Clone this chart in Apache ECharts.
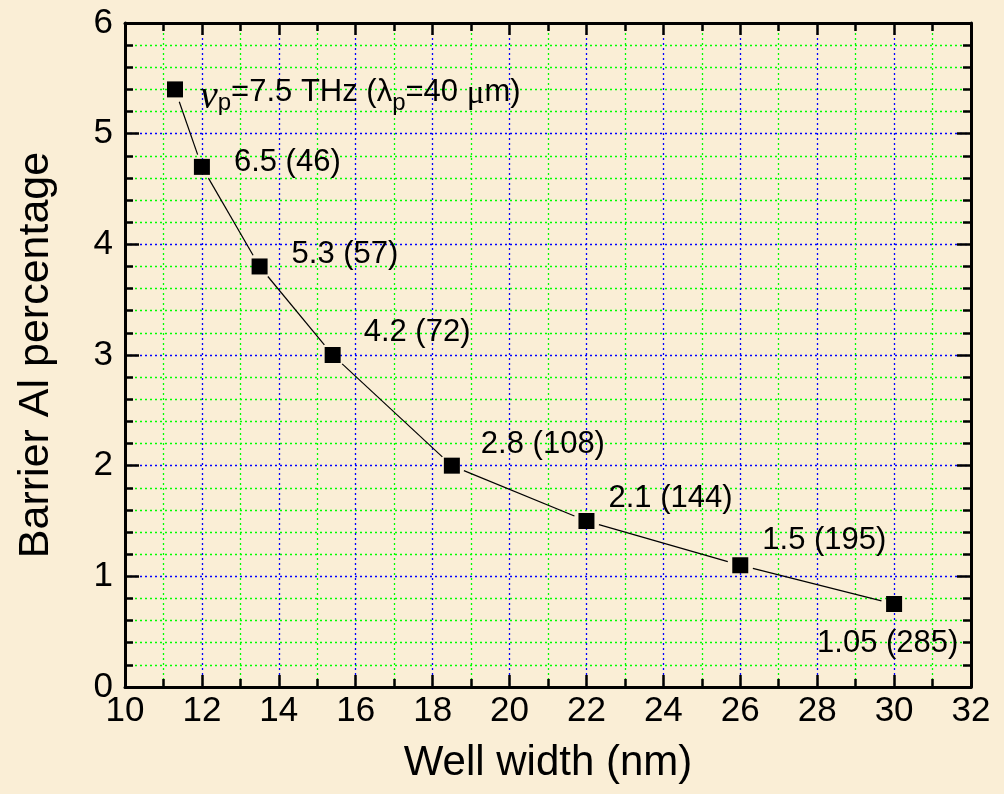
<!DOCTYPE html>
<html>
<head>
<meta charset="utf-8">
<script src="https://cdn.jsdelivr.net/npm/echarts@6/dist/echarts.min.js"></script>
<style>
html,body{margin:0;padding:0;background:#FAEED6;}
#chart{width:1004px;height:794px;}
</style>
</head>
<body>
<div id="chart"></div>
<script>
// ---- data ----
var wellWidth = [11.3, 12, 13.5, 15.4, 18.5, 22, 26, 30];
var alPercent = [5.4, 4.7, 3.8, 3.0, 2.0, 1.5, 1.1, 0.75];
var pointLabels = [
  '{nu|ν}{sub|p}{t|=7.5 THz (}{t|λ}{sub|p}{t|=40 }{mu|μ}{t|m)}',
  '6.5 (46)', '5.3 (57)', '4.2 (72)', '2.8 (108)', '2.1 (144)', '1.5 (195)', '1.05 (285)'
];
var xTickRange = [10, 32];
var yTickRange = [0, 6];
var xAxisTitle = 'Well width (nm)';
var yAxisTitle = 'Barrier Al percentage';

// ---- label placement (styling, not data) ----
var labelOffsets = [[12,7],[19,-4],[19,-12],[18,-23],[16,-21],[9,-23],[9,-25],[-90,39]];
var LINE_GAP = 13;

var FONT = 'Liberation Sans, Arial, sans-serif';
var SERIF = 'Liberation Serif, Times New Roman, serif';
var pointData = wellWidth.map(function (x, i) {
  return {
    value: [x, alPercent[i]],
    label: {
      show: true,
      position: 'right',
      offset: labelOffsets[i],
      formatter: pointLabels[i]
    }
  };
});
var segmentData = [];
for (var i = 0; i < wellWidth.length - 1; i++) {
  segmentData.push([wellWidth[i], alPercent[i], wellWidth[i + 1], alPercent[i + 1]]);
}

var gridBlue = {show: true, lineStyle: {color: '#0000FF', width: 1.3, type: [2, 3]}};
var gridGreen = {show: true, lineStyle: {color: '#00FF00', width: 1.3, type: [2, 3]}};
var axisLine = {show: true, onZero: false, lineStyle: {color: '#000', width: 3}};

function xAx(pos, main) {
  return {
    type: 'value', position: pos, min: xTickRange[0], max: xTickRange[1], interval: 2,
    axisLine: axisLine,
    axisTick: {show: true, inside: true, length: 12, lineStyle: {color: '#000', width: 2.5}},
    minorTick: {show: true, splitNumber: 2, length: 8, lineStyle: {color: '#000', width: 2.5}},
    splitLine: main ? gridBlue : {show: false},
    minorSplitLine: main ? gridGreen : {show: false},
    axisLabel: {show: main, color: '#000', fontSize: 35, fontFamily: FONT, margin: 7},
    name: main ? xAxisTitle : '', nameLocation: 'middle', nameGap: 55,
    nameTextStyle: {color: '#000', fontSize: 42, fontFamily: FONT}
  };
}
function yAx(pos, main) {
  return {
    type: 'value', position: pos, min: yTickRange[0], max: yTickRange[1], interval: 1,
    axisLine: axisLine,
    axisTick: {show: true, inside: true, length: 14, lineStyle: {color: '#000', width: 2.5}},
    minorTick: {show: true, splitNumber: 5, length: 8, lineStyle: {color: '#000', width: 2.5}},
    splitLine: main ? gridBlue : {show: false},
    minorSplitLine: main ? gridGreen : {show: false},
    axisLabel: {show: main, color: '#000', fontSize: 35, fontFamily: FONT, margin: 12},
    name: main ? yAxisTitle : '', nameLocation: 'middle', nameGap: 67,
    nameTextStyle: {color: '#000', fontSize: 43, fontFamily: FONT}
  };
}

var chart = echarts.init(document.getElementById('chart'), null, {renderer: 'canvas'});
chart.setOption({
  backgroundColor: '#FAEED6',
  animation: false,
  grid: {left: 125, right: 33, top: 23, bottom: 107},
  xAxis: [xAx('bottom', true), xAx('top', false)],
  yAxis: [yAx('left', true), yAx('right', false)],
  series: [{
    type: 'custom',
    xAxisIndex: 0, yAxisIndex: 0,
    data: segmentData,
    z: 4,
    silent: true,
    renderItem: function (params, api) {
      var a = api.coord([api.value(0), api.value(1)]);
      var b = api.coord([api.value(2), api.value(3)]);
      var dx = b[0] - a[0], dy = b[1] - a[1];
      var len = Math.sqrt(dx * dx + dy * dy);
      var ux = dx / len, uy = dy / len;
      return {
        type: 'line',
        shape: {
          x1: a[0] + ux * LINE_GAP, y1: a[1] + uy * LINE_GAP,
          x2: b[0] - ux * LINE_GAP, y2: b[1] - uy * LINE_GAP
        },
        style: {stroke: '#000', lineWidth: 1.2}
      };
    }
  }, {
    type: 'scatter',
    data: pointData,
    xAxisIndex: 0, yAxisIndex: 0,
    symbol: 'rect', symbolSize: 16,
    itemStyle: {color: '#000', opacity: 1},
    z: 5,
    label: {
      color: '#000', fontSize: 31, fontFamily: FONT, opacity: 1,
      rich: {
        t: {fontSize: 31, fontFamily: FONT, color: '#000', lineHeight: 38, verticalAlign: 'top'},
        nu: {fontSize: 40, fontFamily: SERIF, fontStyle: 'italic', color: '#000', lineHeight: 38, verticalAlign: 'top'},
        mu: {fontSize: 33, fontFamily: SERIF, color: '#000', lineHeight: 38, verticalAlign: 'top'},
        sub: {fontSize: 24, fontFamily: FONT, color: '#000', lineHeight: 24, padding: [22, 0, 0, 0], verticalAlign: 'bottom'}
      }
    }
  }]
});
</script>
</body>
</html>
